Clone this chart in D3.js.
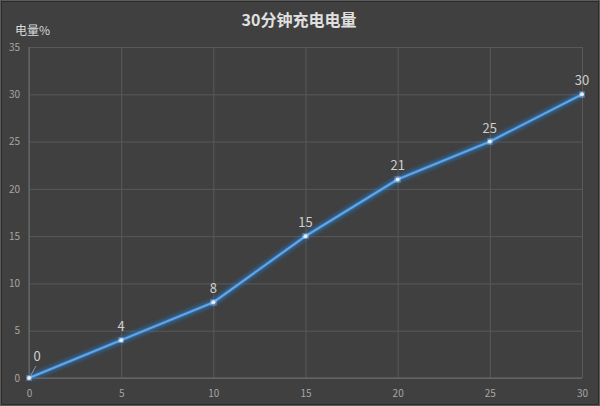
<!DOCTYPE html>
<html><head><meta charset="utf-8">
<script src="https://cdn.jsdelivr.net/npm/d3@7/dist/d3.min.js"></script>
<style>html,body{margin:0;padding:0;background:#404040;}svg{display:block;}</style>
</head><body>
<svg id="c" width="600" height="406"></svg>
<script>
const minutes = [0, 5, 10, 15, 20, 25, 30];
const charge = [0, 4, 8, 15, 21, 25, 30];
const xTicks = [0, 5, 10, 15, 20, 25, 30];
const yTicks = [0, 5, 10, 15, 20, 25, 30, 35];
const title = "30分钟充电电量";
const yTitle = "电量%";

const svg = d3.select("#c");
const W = 600, H = 406;
const m = {left: 29, right: 18, top: 47, bottom: 28};
const font = "'Noto Sans CJK SC','Microsoft YaHei',sans-serif";

svg.append("rect").attr("width", W).attr("height", H).attr("fill", "#404040");
svg.append("rect").attr("x", 0.5).attr("y", 0.5).attr("width", W - 1).attr("height", H - 1)
  .attr("fill", "none").attr("stroke", "#5a5a5a");
svg.append("rect").attr("x", 1.5).attr("y", 1.5).attr("width", W - 3).attr("height", H - 3)
  .attr("fill", "none").attr("stroke", "#2c2c2c");

const x = d3.scaleLinear().domain([0, 30]).range([m.left, W - m.right]);
const y = d3.scaleLinear().domain([0, 35]).range([H - m.bottom, m.top]);

const defs = svg.append("defs");
const f = defs.append("filter").attr("id", "glow").attr("x", "-20%").attr("y", "-20%").attr("width", "140%").attr("height", "140%");
f.append("feGaussianBlur").attr("in", "SourceGraphic").attr("stdDeviation", 2.5).attr("result", "b");
const mg = f.append("feMerge");
mg.append("feMergeNode").attr("in", "b");
mg.append("feMergeNode").attr("in", "b");
mg.append("feMergeNode").attr("in", "SourceGraphic");

// grid
svg.append("g").attr("transform", `translate(0,${y(0)})`)
  .call(d3.axisBottom(x).tickValues(xTicks).tickSize(-(y(0) - y(35))).tickFormat(d => d).tickPadding(12))
  .call(g => g.select(".domain").remove())
  .call(g => g.selectAll("line").attr("stroke", "#595959"))
  .call(g => g.selectAll("text").attr("fill", "#a6a6a6").attr("font-size", 10).attr("font-family", font));

svg.append("g").attr("transform", `translate(${x(0)},0)`)
  .call(d3.axisLeft(y).tickValues(yTicks).tickSize(-(x(30) - x(0))).tickFormat(d => d).tickPadding(9))
  .call(g => g.select(".domain").remove())
  .call(g => g.selectAll("line").attr("stroke", "#595959"))
  .call(g => g.selectAll("text").attr("fill", "#a6a6a6").attr("font-size", 10).attr("font-family", font));

// axis lines
svg.append("line").attr("x1", x(0)).attr("x2", x(0)).attr("y1", y(35)).attr("y2", y(0)).attr("stroke", "#6e6e6e");
svg.append("line").attr("x1", x(0)).attr("x2", x(30)).attr("y1", y(0)).attr("y2", y(0)).attr("stroke", "#6e6e6e");

const data = minutes.map((d, i) => ({m: d, v: charge[i]}));
const line = d3.line().x(d => x(d.m)).y(d => y(d.v));

svg.append("path").datum(data).attr("d", line).attr("fill", "none")
  .attr("stroke", "#2f7fd0").attr("stroke-width", 3.5).attr("stroke-opacity", 0.55).attr("filter", "url(#glow)");
svg.append("path").datum(data).attr("d", line).attr("fill", "none")
  .attr("stroke", "#64a6e6").attr("stroke-width", 2).attr("stroke-linejoin", "round");

svg.selectAll("circle.pt").data(data).join("circle").attr("class", "pt")
  .attr("cx", d => x(d.m)).attr("cy", d => y(d.v)).attr("r", 2)
  .attr("fill", "#cfe6ff").attr("filter", "url(#glow)");
svg.selectAll("circle.pt2").data(data).join("circle").attr("class", "pt2")
  .attr("cx", d => x(d.m)).attr("cy", d => y(d.v)).attr("r", 1.4)
  .attr("fill", "#e2f0ff");

// data labels
svg.selectAll("text.lab").data(data).join("text").attr("class", "lab")
  .attr("x", d => d.v === 0 ? x(d.m) + 8 : x(d.m))
  .attr("y", d => d.v === 0 ? y(d.v) - 17 : y(d.v) - 9)
  .attr("text-anchor", "middle")
  .attr("fill", "#cfcfcf").attr("font-size", 13).attr("font-family", font)
  .text(d => d.v);
// leader line for 0
svg.append("line").attr("x1", x(0) + 2).attr("y1", y(0) - 3).attr("x2", x(0) + 7).attr("y2", y(0) - 12)
  .attr("stroke", "#a6a6a6").attr("stroke-width", 0.8);

svg.append("text").attr("x", 299).attr("y", 26).attr("text-anchor", "middle")
  .attr("fill", "#e0e0e0").attr("font-size", 16).attr("font-weight", "bold").attr("font-family", font)
  .text(title);
svg.append("text").attr("x", 15).attr("y", 35)
  .attr("fill", "#d9d9d9").attr("font-size", 12).attr("font-family", font)
  .text(yTitle);
</script>
</body></html>
